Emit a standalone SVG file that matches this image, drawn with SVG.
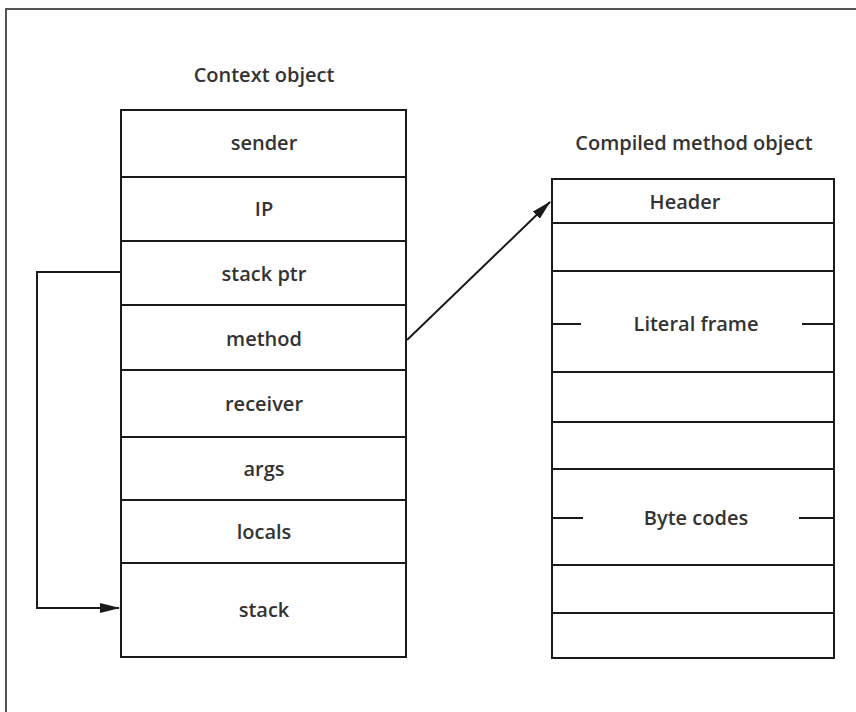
<svg xmlns="http://www.w3.org/2000/svg" width="856" height="712" viewBox="0 0 856 712">
<style>
.frame{fill:none;stroke:#555;stroke-width:2}
.box{fill:#fff;stroke:#1a1a1a;stroke-width:2}
.ln{stroke:#1a1a1a;stroke-width:2;fill:none}
.t{font-family:"Open Sans","DejaVu Sans",sans-serif;font-size:20px;font-weight:600;fill:#333;text-anchor:middle}
.conn{stroke:#1a1a1a;stroke-width:2;fill:none}
</style>
<defs>
<marker id="ah" viewBox="0 0 20 10" refX="19" refY="5" markerWidth="20" markerHeight="10" markerUnits="userSpaceOnUse" orient="auto">
<path d="M0,0 L20,5 L0,10 Z" fill="#1a1a1a"/>
</marker>
</defs>
<rect x="0" y="0" width="856" height="712" fill="#fff"/>
<path class="frame" d="M6,712 L6,9 L856,9"/>

<g id="context-object">
<text class="t" x="264" y="82">Context object</text>
<rect class="box" x="121" y="110" width="285" height="547"/>
<line class="ln" x1="121" y1="177" x2="406" y2="177"/>
<line class="ln" x1="121" y1="241" x2="406" y2="241"/>
<line class="ln" x1="121" y1="305" x2="406" y2="305"/>
<line class="ln" x1="121" y1="370" x2="406" y2="370"/>
<line class="ln" x1="121" y1="437" x2="406" y2="437"/>
<line class="ln" x1="121" y1="500" x2="406" y2="500"/>
<line class="ln" x1="121" y1="563" x2="406" y2="563"/>
<text class="t" x="264" y="150">sender</text>
<text class="t" x="264" y="216">IP</text>
<text class="t" x="264" y="281">stack ptr</text>
<text class="t" x="264" y="346">method</text>
<text class="t" x="264" y="411">receiver</text>
<text class="t" x="264" y="476">args</text>
<text class="t" x="264" y="539">locals</text>
<text class="t" x="264" y="617">stack</text>
</g>

<g id="compiled-method-object">
<text class="t" x="694" y="150">Compiled method object</text>
<rect class="box" x="552" y="179" width="282" height="479"/>
<line class="ln" x1="552" y1="223" x2="834" y2="223"/>
<line class="ln" x1="552" y1="271" x2="834" y2="271"/>
<line class="ln" x1="552" y1="372" x2="834" y2="372"/>
<line class="ln" x1="552" y1="422" x2="834" y2="422"/>
<line class="ln" x1="552" y1="469" x2="834" y2="469"/>
<line class="ln" x1="552" y1="565" x2="834" y2="565"/>
<line class="ln" x1="552" y1="613" x2="834" y2="613"/>
<line class="ln" x1="552" y1="324" x2="581" y2="324"/>
<line class="ln" x1="802" y1="324" x2="834" y2="324"/>
<line class="ln" x1="552" y1="518" x2="583" y2="518"/>
<line class="ln" x1="799" y1="518" x2="834" y2="518"/>
<text class="t" x="685" y="209">Header</text>
<text class="t" x="696" y="331">Literal frame</text>
<text class="t" x="696" y="525">Byte codes</text>
</g>

<g id="connectors">
<path class="conn" d="M121,272 L37,272 L37,608 L119,608" marker-end="url(#ah)"/>
<path class="conn" d="M407,340 L550,202" marker-end="url(#ah)"/>
</g>
</svg>
